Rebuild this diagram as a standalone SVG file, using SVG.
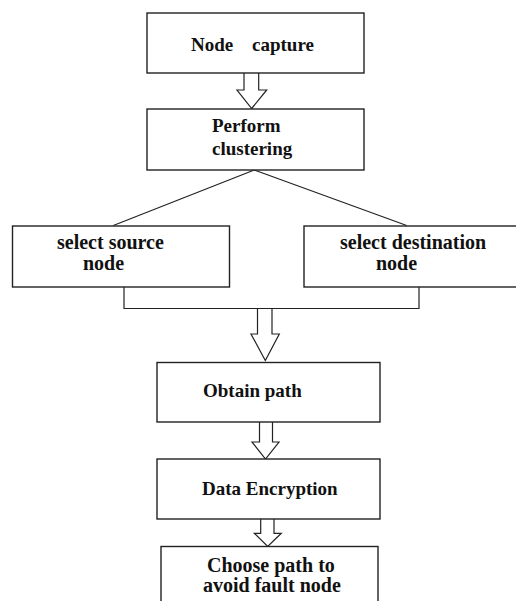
<svg xmlns="http://www.w3.org/2000/svg" width="516" height="601" viewBox="0 0 516 601">
<style>
.box{fill:#fff;stroke:#222;stroke-width:1.4}
.lbl{font-family:"Liberation Serif","Times New Roman",serif;font-weight:bold;fill:#111;font-size:19px}
.big{font-size:20px}
.con{fill:none;stroke:#222;stroke-width:1.2}
.blk{fill:#fff;stroke:#222;stroke-width:1.2;stroke-linejoin:miter}
</style>
<rect width="516" height="601" fill="#fff"/>
<g id="connectors">
<line class="con" x1="254.3" y1="170" x2="113.3" y2="225.5"/>
<line class="con" x1="254.3" y1="170" x2="406.7" y2="225.5"/>
<polyline class="con" points="124,287 124,308.5 419,308.5 419,287"/>
<path class="blk" d="M244,73 V90 H237 L251.7,108.5 L266.7,90 H258.7 V73"/>
<path class="blk" d="M257.5,309 V334 H251 L265.3,360.5 L279.3,334 H272 V309"/>
<path class="blk" d="M259.5,422 V442 H252 L265.5,459 L279,442 H272.5 V422"/>
<path class="blk" d="M260.7,519 V533.3 H254.3 L267.7,546.5 L281.3,533.3 H274 V519"/>
</g>
<g id="node-capture">
<rect class="box" x="147" y="13" width="217" height="60"/>
<text class="lbl"><tspan x="191" y="51">Node</tspan><tspan x="252" y="51">capture</tspan></text>
</g>
<g id="perform-clustering">
<rect class="box" x="147" y="109" width="217" height="61"/>
<text class="lbl"><tspan x="212" y="132">Perform</tspan><tspan x="212" y="155">clustering</tspan></text>
</g>
<g id="select-source">
<rect class="box" x="12.5" y="226" width="217" height="61"/>
<text class="lbl big"><tspan x="57" y="249">select source</tspan><tspan x="83" y="270">node</tspan></text>
</g>
<g id="select-destination">
<rect class="box" x="304" y="226" width="220" height="61"/>
<text class="lbl big"><tspan x="340" y="249">select destination</tspan><tspan x="376" y="270">node</tspan></text>
</g>
<g id="obtain-path">
<rect class="box" x="157" y="362.5" width="223" height="59.5"/>
<text class="lbl" x="203" y="397">Obtain path</text>
</g>
<g id="data-encryption">
<rect class="box" x="157" y="459" width="223" height="60"/>
<text class="lbl" x="202" y="495">Data Encryption</text>
</g>
<g id="choose-path">
<rect class="box" x="161" y="546.5" width="217" height="70"/>
<text class="lbl big"><tspan x="207" y="572">Choose path to</tspan><tspan x="203" y="592">avoid fault node</tspan></text>
</g>
</svg>
